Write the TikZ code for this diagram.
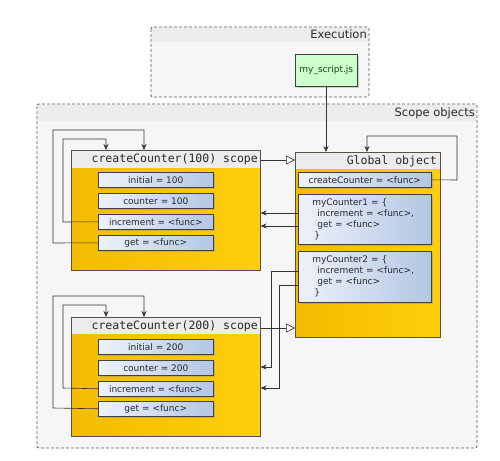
\documentclass[tikz,border=0pt]{standalone}
\usepackage{fontspec}
\setmainfont{DejaVu Sans}
\setmonofont{DejaVu Sans Mono}
\usetikzlibrary{arrows.meta,shadows,positioning}
\definecolor{gold}{RGB}{242,188,0}
\definecolor{goldlight}{RGB}{255,206,10}
\definecolor{blueL}{RGB}{238,242,250}
\definecolor{blueR}{RGB}{178,198,228}
\definecolor{hdr}{RGB}{236,236,236}
\definecolor{panel}{RGB}{246,246,246}
\definecolor{edge}{RGB}{90,80,70}
\definecolor{txt}{RGB}{40,40,40}
\definecolor{greenfill}{RGB}{204,255,204}
\definecolor{greentxt}{RGB}{20,70,20}
\tikzset{
  x=1pt, y=-1pt,
  panelbox/.style={draw=black!65, dash pattern=on 3pt off 2pt, rounded corners=2pt, line width=0.7pt},
  scopebox/.style={draw=edge, line width=0.6pt, left color=gold, right color=goldlight, anchor=north west, inner sep=0pt},
  hdrband/.style={fill=hdr, draw=none, anchor=north west, inner sep=0pt},
  varbox/.style={draw=black!75, line width=0.6pt, left color=blueL, right color=blueR, anchor=north west,
     inner sep=0pt, font=\fontsize{9}{11}\selectfont, text=txt,
     drop shadow={opacity=0.35, shadow xshift=1.5pt, shadow yshift=-1.5pt}},
  objbox/.style={varbox, align=left, text width=105pt, inner xsep=14pt, minimum width=133pt},
  title/.style={font=\fontsize{11.5}{13}\selectfont\ttfamily, text=txt, anchor=east, inner sep=1pt},
  ptitle/.style={font=\fontsize{11.5}{13}\selectfont, text=txt, anchor=east, inner sep=1pt},
  ref/.style={-{Stealth[length=6pt,width=5pt]}, line width=0.6pt, draw=black!80},
  chain/.style={-{Triangle[open,length=9pt,width=9pt]}, line width=0.6pt, draw=black!80},
}
\begin{document}
\begin{tikzpicture}
\useasboundingbox (0,0) rectangle (500,460);
\fill[white] (0,0) rectangle (500,460);
% Execution panel
\fill[panel, rounded corners=2pt] (151,27) rectangle (369,97);
\fill[hdr] (152,28) rectangle (368,42);
\draw[panelbox] (151,27) rectangle (369,97);
\node[ptitle] (exectitle) at (368,34.5) {Execution};
\node[draw=black!75, line width=0.6pt, fill=greenfill, anchor=north west, minimum width=62pt, minimum height=32pt,
  inner sep=0pt, font=\fontsize{9}{10}\selectfont, text=greentxt,
  drop shadow={opacity=0.35, shadow xshift=1.5pt, shadow yshift=-1.5pt}] (script) at (295,54) {my\_script.js};
% Scope objects panel
\fill[panel, rounded corners=2pt] (37,104) rectangle (477,448);
\fill[hdr] (38,105) rectangle (476,121);
\draw[panelbox] (37,104) rectangle (477,448);
\node[ptitle] (scopetitle) at (476,113) {Scope objects};

% Scope 100
\node[scopebox, minimum width=189pt, minimum height=120pt] (s1) at (71,150) {};
\node[hdrband, minimum width=188.4pt, minimum height=17.7pt] (s1h) at (71.3,150.3) {};
\node[title] (s1t) at (259,159.5) {createCounter(100) scope};
\node[varbox, minimum width=115pt, minimum height=15pt] (s1i) at (98,172) {initial = 100};
\node[varbox, minimum width=115pt, minimum height=15pt] (s1c) at (98,193) {counter = 100};
\node[varbox, minimum width=115pt, minimum height=15pt] (s1n) at (98,214) {increment = <func>};
\node[varbox, minimum width=115pt, minimum height=15pt] (s1g) at (98,235) {get = <func>};
\draw[draw=edge, line width=0.6pt] (s1.north west) rectangle (s1.south east);

% Scope 200
\node[scopebox, minimum width=189pt, minimum height=119pt] (s2) at (71,317) {};
\node[hdrband, minimum width=188.4pt, minimum height=16.7pt] (s2h) at (71.3,317.3) {};
\node[title] (s2t) at (259,326) {createCounter(200) scope};
\node[varbox, minimum width=115pt, minimum height=15pt] (s2i) at (98,339) {initial = 200};
\node[varbox, minimum width=115pt, minimum height=15pt] (s2c) at (98,360) {counter = 200};
\node[varbox, minimum width=115pt, minimum height=15pt] (s2n) at (98,381) {increment = <func>};
\node[varbox, minimum width=115pt, minimum height=15pt] (s2g) at (98,401) {get = <func>};
\draw[draw=edge, line width=0.6pt] (s2.north west) rectangle (s2.south east);

% Global object
\node[scopebox, minimum width=145pt, minimum height=185pt] (g) at (295,152) {};
\node[hdrband, minimum width=144.4pt, minimum height=16.7pt] (gh) at (295.3,152.3) {};
\node[title] (gt) at (438,161) {Global object};
\node[varbox, minimum width=133pt, minimum height=15pt] (gc) at (298,172) {createCounter = <func>};
\node[objbox, minimum height=50pt] (m1) at (298,194) {myCounter1 = \{\\
\hspace*{5pt}increment = <func>,\\
\hspace*{5pt}get = <func>\\
\hspace*{2pt}\}};
\node[objbox, minimum height=51pt] (m2) at (298,251) {myCounter2 = \{\\
\hspace*{5pt}increment = <func>,\\
\hspace*{5pt}get = <func>\\
\hspace*{2pt}\}};
\draw[draw=edge, line width=0.6pt] (g.north west) rectangle (g.south east);

% helper coordinates
\coordinate (gtop1) at (326,152);
\coordinate (gtop2) at (367,152);
% connectors
\draw[ref] (script.south -| gtop1) -- (gtop1);
\draw[ref] (gc.east) -- (457,180) -- (457,136) -- (367,136) -- (gtop2);
\draw[chain] (s1.east |- 0,160) -- (g.west |- 0,160);
\draw[chain] (s2.east |- 0,328) -- (g.west |- 0,328);
\draw[ref] (m1.west |- 0,213) -- (s1.east |- 0,213);
\draw[ref] (m1.west |- 0,226) -- (s1.east |- 0,226);
\draw[ref] (m2.west |- 0,271) -- (271,271) -- (271,367) -- (s2.east |- 0,367);
\draw[ref] (m2.west |- 0,285) -- (279,285) -- (279,388) -- (s2.east |- 0,388);
% self loops scope 100
\draw[ref] (s1n.west) -- (63,222) -- (63,139) -- (106,139) -- (s1.north -| 106,0);
\draw[ref] (s1g.west) -- (53,243) -- (53,130) -- (144,130) -- (s1.north -| 144,0);
% self loops scope 200
\draw[ref] (s2n.west) -- (63,388) -- (63,305) -- (106,305) -- (s2.north -| 106,0);
\draw[ref] (s2g.west) -- (53,408) -- (53,296) -- (144,296) -- (s2.north -| 144,0);
\end{tikzpicture}
\end{document}
